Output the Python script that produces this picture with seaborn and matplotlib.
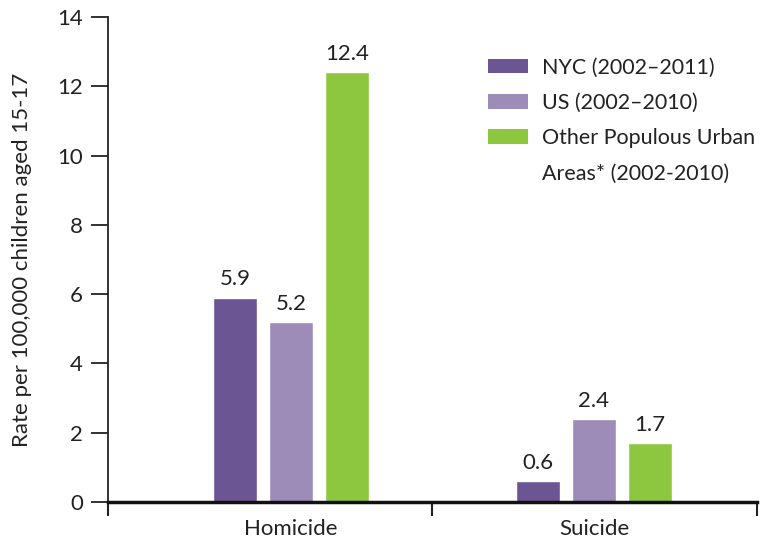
import matplotlib
matplotlib.use("Agg")
import matplotlib.pyplot as plt
import seaborn as sns
import pandas as pd
from matplotlib.patches import Patch
from matplotlib.ticker import FixedLocator

categories = ["Homicide", "Suicide"]
series = ["NYC (2002\u20132011)", "US (2002\u20132010)", "Other Populous Urban\nAreas* (2002-2010)"]
nyc = [5.9, 0.6]
us = [5.2, 2.4]
other = [12.4, 1.7]
labels = ["5.9", "0.6", "5.2", "2.4", "12.4", "1.7"]
colors = ["#6c5593", "#9d8bb8", "#8dc63f"]

rows = []
for s, vals in zip(series, [nyc, us, other]):
    for c, v in zip(categories, vals):
        rows.append({"cat": c, "series": s, "val": v})
df = pd.DataFrame(rows)

sns.set_theme(style="white")
plt.rcParams["font.family"] = ["Lato", "DejaVu Sans"]

fig = plt.figure(figsize=(7.77, 5.42), dpi=100)
ax = fig.add_axes([108/777, 40/542, (757-108)/777, (502-17)/542])

sns.barplot(data=df, x="cat", y="val", hue="series", hue_order=series,
            palette=colors, width=0.555, gap=0.2, ax=ax, saturation=1, legend=False)

for cont, lab in zip(ax.containers, [labels[0:2], labels[2:4], labels[4:6]]):
    ax.bar_label(cont, labels=lab, padding=6, fontsize=16, color="#222222")

ax.set_ylim(0, 14)
ax.set_yticks(range(0, 15, 2))
ax.set_xlim(-0.604, 1.538)
ax.set_xlabel("")
ax.set_ylabel("Rate per 100,000 children aged 15-17", fontsize=16, color="#222222", labelpad=18)
ax.tick_params(axis="y", which="major", direction="out", length=12, width=1.3,
               color="#222222", labelsize=16, labelcolor="#222222", left=True, pad=6)
ax.tick_params(axis="x", which="major", length=0, labelsize=16, labelcolor="#222222", pad=12)
ax.xaxis.set_minor_locator(FixedLocator([-0.604, 0.465, 1.538]))
ax.tick_params(axis="x", which="minor", direction="out", length=10, width=1.5,
               color="#222222", bottom=True)

for side in ["top", "right"]:
    ax.spines[side].set_visible(False)
ax.spines["left"].set_color("#222222")
ax.spines["left"].set_linewidth(1.3)
ax.spines["bottom"].set_color("#111111")
ax.spines["bottom"].set_linewidth(2.5)

# legend: handle aligned with first line of the wrapped label
handles, leg_labels = [], []
for s, c in zip(series, colors):
    parts = s.split("\n")
    handles.append(Patch(facecolor=c, edgecolor="none"))
    leg_labels.append(parts[0])
    for extra in parts[1:]:
        handles.append(Patch(facecolor="none", edgecolor="none"))
        leg_labels.append(extra)

ax.legend(handles, leg_labels, loc="upper left", bbox_to_anchor=(0.5716, 0.934),
          frameon=False, fontsize=15.5, handlelength=1.9, handleheight=0.65,
          handletextpad=0.65, labelspacing=0.71, labelcolor="#222222", borderaxespad=0)
ax.grid(False)

fig.savefig("out.png", dpi=100)
